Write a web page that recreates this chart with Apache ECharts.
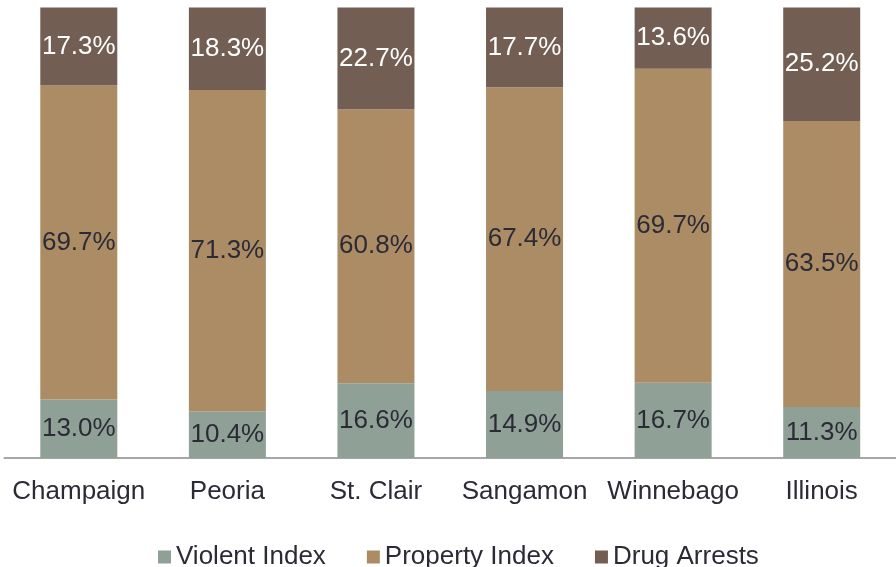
<!DOCTYPE html>
<html>
<head>
<meta charset="utf-8">
<script src="https://cdn.jsdelivr.net/npm/echarts@6/dist/echarts.min.js"></script>
<style>
html,body{margin:0;padding:0;background:#fff;}
#c{width:896px;height:567px;}
</style>
</head>
<body>
<div id="c"></div>
<script>
const categories = ['Champaign', 'Peoria', 'St. Clair', 'Sangamon', 'Winnebago', 'Illinois'];
const violentIndex = [13.0, 10.4, 16.6, 14.9, 16.7, 11.3];
const propertyIndex = [69.7, 71.3, 60.8, 67.4, 69.7, 63.5];
const drugArrests = [17.3, 18.3, 22.7, 17.7, 13.6, 25.2];
const seriesNames = ['Violent Index', 'Property Index', 'Drug Arrests'];

const FONT = '"Liberation Sans", Arial, sans-serif';
const chart = echarts.init(document.getElementById('c'), null, {renderer: 'canvas'});

function mk(name, data, color, labelColor) {
  return {
    name: name,
    type: 'bar',
    stack: 'total',
    barWidth: 77,
    data: data,
    itemStyle: {color: color},
    label: {
      show: true,
      position: 'inside',
      color: labelColor,
      fontFamily: FONT,
      fontSize: 26,
      formatter: p => p.value.toFixed(1) + '%'
    },
    emphasis: {disabled: true}
  };
}

chart.setOption({
  animation: false,
  backgroundColor: '#ffffff',
  grid: {left: 4.5, right: -6.5, top: 7.5, bottom: 109, containLabel: false},
  legend: {
    data: seriesNames,
    left: 153,
    top: 539,
    itemWidth: 13,
    itemHeight: 13,
    itemGap: 41,
    icon: 'rect',
    textStyle: {fontFamily: FONT, fontSize: 26, color: '#2b2b36'}
  },
  xAxis: {
    type: 'category',
    data: categories,
    axisLine: {lineStyle: {color: '#a6a6a6', width: 2}},
    axisTick: {show: false},
    axisLabel: {fontFamily: FONT, fontSize: 26, color: '#2b2b36', margin: 21, interval: 0}
  },
  yAxis: {
    type: 'value',
    min: 0,
    max: 100,
    show: false,
    splitLine: {show: false}
  },
  series: [
    mk(seriesNames[0], violentIndex, '#8fa096', '#2b2b36'),
    mk(seriesNames[1], propertyIndex, '#ab8c64', '#2b2b36'),
    mk(seriesNames[2], drugArrests, '#725e53', '#ffffff')
  ]
});
</script>
</body>
</html>
